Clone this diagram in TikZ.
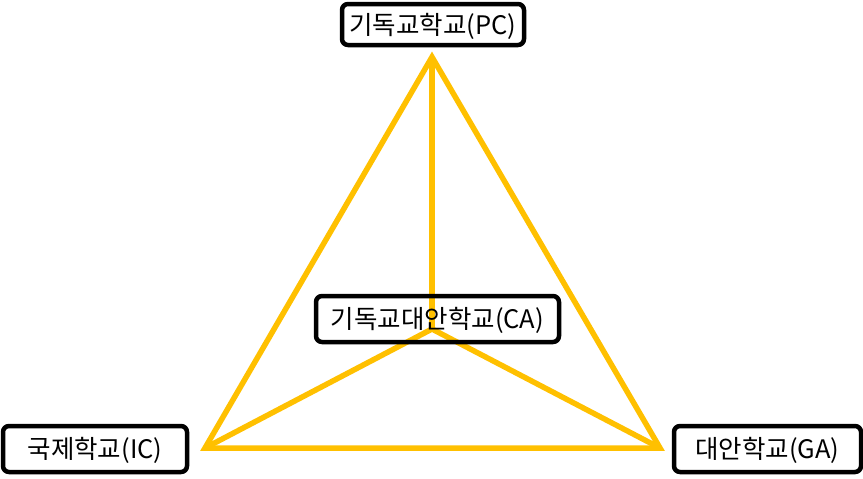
\documentclass[tikz,border=0pt]{standalone}
\usepackage{fontspec}
\setmainfont{Noto Sans CJK KR}
\begin{document}
\begin{tikzpicture}[x=1pt,y=-1pt,
  lbl/.style={draw=black,line width=4.5pt,rounded corners=6pt,fill=white,fill opacity=0,text opacity=1,
    inner sep=0pt,align=center,font=\fontsize{25.5}{30}\selectfont,text depth=2pt},
  edge/.style={draw=gold,line width=5.5pt,line join=miter}]
\definecolor{gold}{HTML}{FFC000}
\useasboundingbox (0,0) rectangle (863,479);
\coordinate (top) at (432,57);
\coordinate (bl) at (205,448);
\coordinate (br) at (660,448);
\coordinate (ctr) at (432,329);
\draw[edge] (top) -- (bl) -- (br) -- cycle;
\draw[edge] (top) -- (ctr);
\draw[edge] (bl) -- (ctr) -- (br);
\node[lbl,minimum width=182pt,minimum height=41pt] (pc) at (433,24.5) {기독교학교(PC)};
\node[lbl,minimum width=243pt,minimum height=46pt] (ca) at (437.5,319) {기독교대안학교(CA)};
\node[lbl,minimum width=184pt,minimum height=46pt] (ic) at (95,449) {국제학교(IC)};
\node[lbl,minimum width=187pt,minimum height=46pt] (ga) at (767.5,449) {대안학교(GA)};
\end{tikzpicture}
\end{document}
